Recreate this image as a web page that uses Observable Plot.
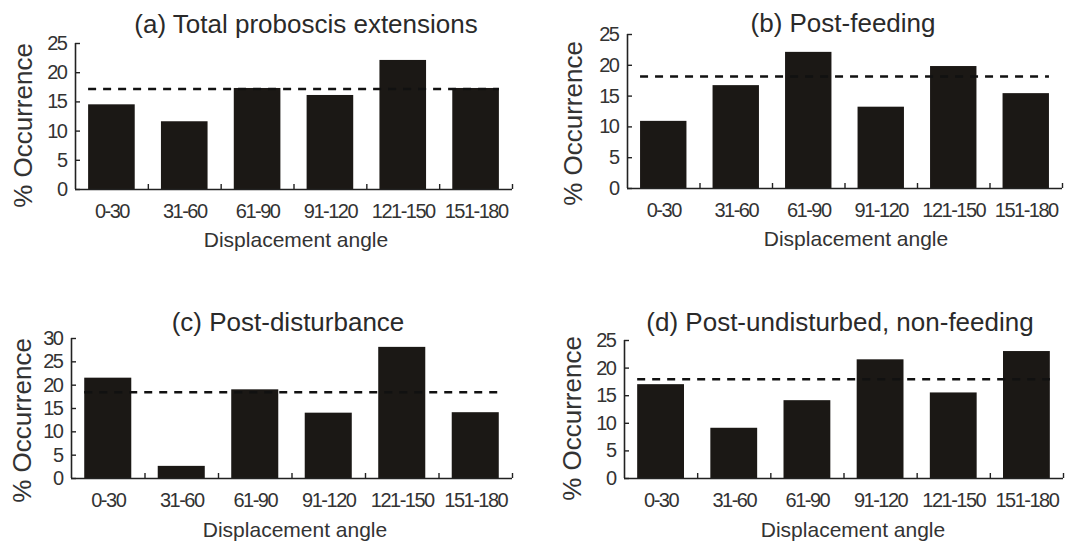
<!DOCTYPE html>
<html>
<head>
<meta charset="utf-8">
<script src="https://cdn.jsdelivr.net/npm/d3@7"></script>
<script src="https://cdn.jsdelivr.net/npm/@observablehq/plot@0.6"></script>
<style>
  html, body { margin: 0; padding: 0; background: #fff; }
  #chart { position: relative; width: 1083px; height: 543px; overflow: hidden; }
  #chart > svg { position: absolute; }
  #chart g[aria-label$="tick label"] text { letter-spacing: -1.5px; }
</style>
</head>
<body>
<div id="chart"></div>
<script>
// ---- data ----
const categories = ["0-30", "31-60", "61-90", "91-120", "121-150", "151-180"];
const totalExtensions   = [14.5, 11.6, 17.3, 16.1, 22.1, 17.3];
const postFeeding       = [10.9, 16.7, 22.1, 13.2, 19.8, 15.4];
const postDisturbance   = [21.5, 2.6, 19.0, 14.0, 28.1, 14.1];
const postUndisturbed   = [17.0, 9.1, 14.1, 21.5, 15.5, 23.0];
const expectedLevels    = [17.2, 18.2, 18.5, 18.0];
const panelTitles = ["(a) Total proboscis extensions", "(b) Post-feeding", "(c) Post-disturbance", "(d) Post-undisturbed, non-feeding"];
const yTicks25 = [0, 5, 10, 15, 20, 25];
const yTicks30 = [0, 5, 10, 15, 20, 25, 30];
const yLabel = "% Occurrence";
const xLabel = "Displacement angle";

// ---- layout (pixels) ----
const panels = [
  {values: totalExtensions, ticks: yTicks25, left: 0,   top: 0,   width: 540, height: 272, mL: 75, mR: 28, mT: 43, mB: 83, tdx: 12, tBase: 32, xdx: 2,  ydx: -52, ydy: 9},
  {values: postFeeding,     ticks: yTicks25, left: 540, top: 0,   width: 543, height: 272, mL: 87, mR: 21, mT: 34, mB: 84, tdx: -2, tBase: 31, xdx: 11, ydx: -54, ydy: 12},
  {values: postDisturbance, ticks: yTicks30, left: 0,   top: 272, width: 540, height: 271, mL: 71, mR: 28, mT: 66, mB: 65, tdx: -4, tBase: 58, xdx: 3,  ydx: -49, ydy: 12},
  {values: postUndisturbed, ticks: yTicks25, left: 540, top: 272, width: 543, height: 271, mL: 84, mR: 20, mT: 68, mB: 65, tdx: -4, tBase: 58, xdx: 9,  ydx: -52, ydy: 9}
];

const BAR_PAD = 0.18;          // fraction of each category slot left empty on each side
const INK = "#1b1815";
const TEXT = "#333";
const LABEL_FONT = "'Liberation Sans', Arial, Helvetica, sans-serif";
const TICK_FONT = "'Liberation Sans Narrow', 'Arial Narrow', 'Liberation Sans', sans-serif";

const chart = document.getElementById("chart");

panels.forEach((p, k) => {
  const rows = categories.map((c, i) => ({i, category: c, value: p.values[i]}));
  const yMax = p.ticks[p.ticks.length - 1];
  const n = categories.length;
  const frameW = p.width - p.mL - p.mR;
  const frameH = p.height - p.mT - p.mB;
  const tickLenX = 5 * yMax / frameH;   // 5px in y data units
  const tickLenY = 5 * n / frameW;      // 5px in x data units
  const boundaries = d3.range(1, n + 1);
  const centers = d3.range(n).map(i => i + 0.5);

  const svg = Plot.plot({
    width: p.width,
    height: p.height,
    marginLeft: p.mL,
    marginRight: p.mR,
    marginTop: p.mT,
    marginBottom: p.mB,
    style: {fontFamily: TICK_FONT, fontSize: "20px", color: TEXT, background: "transparent", overflow: "visible"},
    x: {type: "linear", domain: [0, n]},
    y: {domain: [0, yMax]},
    marks: [
      Plot.rectY(rows, {x1: d => d.i + BAR_PAD, x2: d => d.i + 1 - BAR_PAD, y1: 0, y2: "value", fill: INK}),
      Plot.ruleY([expectedLevels[k]], {x1: BAR_PAD, x2: n - BAR_PAD, stroke: "#111", strokeWidth: 2.5, strokeDasharray: "8,7"}),
      // axis lines
      Plot.ruleX([0], {y1: 0, y2: yMax, stroke: "#222", strokeWidth: 1.6}),
      Plot.ruleY([0], {x1: 0, x2: n, stroke: "#222", strokeWidth: 1.6}),
      // inward ticks
      Plot.ruleY(p.ticks, {y: d => d, x1: 0, x2: tickLenY, stroke: "#222", strokeWidth: 1.4}),
      Plot.ruleX(boundaries, {x: d => d, y1: 0, y2: tickLenX, stroke: "#222", strokeWidth: 1.4}),
      // tick labels
      Plot.axisY(p.ticks, {tickSize: 0, tickPadding: 9, label: null, fill: TEXT}),
      Plot.axisX(centers, {tickSize: 0, tickPadding: 14, label: null, fill: TEXT, tickFormat: v => categories[Math.floor(v)]}),
      // titles and axis labels
      Plot.text([panelTitles[k]], {frameAnchor: "top", dx: p.tdx, dy: p.tBase - p.mT, lineAnchor: "bottom",
        text: d => d, fontSize: 26, fontFamily: LABEL_FONT, fill: "#2a2a2a"}),
      Plot.text([xLabel], {frameAnchor: "bottom", dx: p.xdx, dy: (k < 2 ? 57 : 58.5), lineAnchor: "bottom",
        text: d => d, fontSize: 21, fontFamily: LABEL_FONT, fill: TEXT}),
      Plot.text([yLabel], {frameAnchor: "left", dx: p.ydx, dy: p.ydy, textAnchor: "middle", lineAnchor: "middle", rotate: -90,
        text: d => d, fontSize: 26, fontFamily: LABEL_FONT, fill: TEXT})
    ]
  });
  svg.style.left = p.left + "px";
  svg.style.top = p.top + "px";
  chart.appendChild(svg);
});
</script>
</body>
</html>
